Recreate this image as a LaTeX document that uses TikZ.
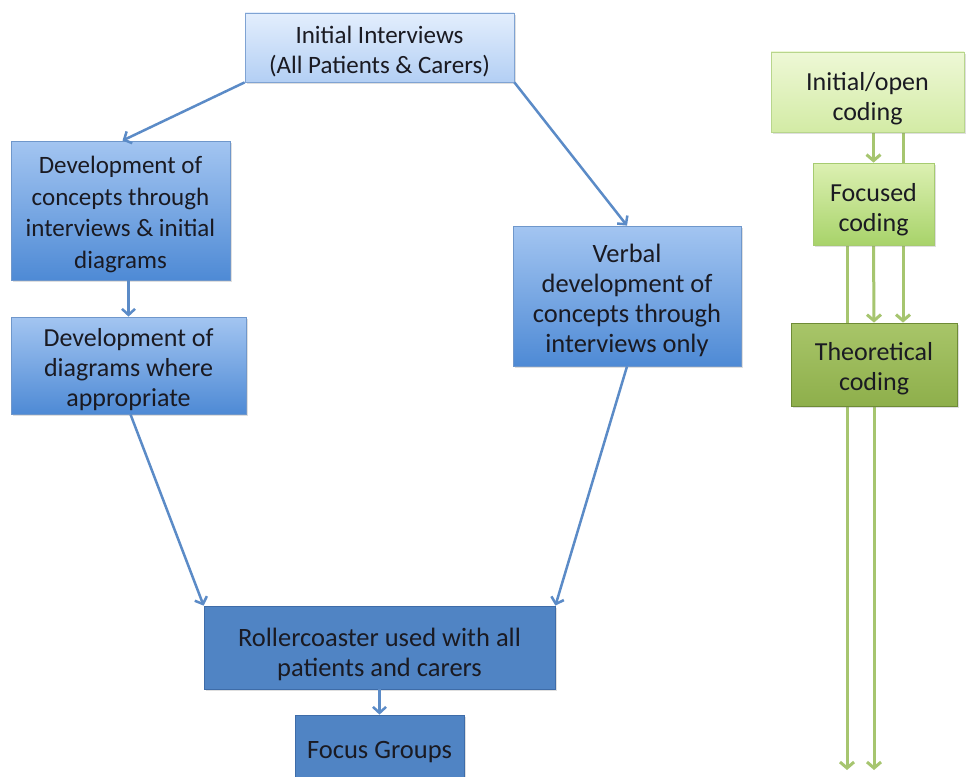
\documentclass[tikz,border=0pt]{standalone}
\usepackage{fontspec}
\setmainfont{Carlito}
\usetikzlibrary{arrows.meta,shadows}
\pgfdeclarelayer{paper}
\pgfdeclarelayer{lines}
\pgfsetlayers{paper,lines,main}
\newcommand\tp[1]{\rule{0pt}{#1pt}}
\definecolor{txt}{HTML}{1A1A22}
\definecolor{blueline}{HTML}{5B8BC7}
\definecolor{greenline}{HTML}{A6C56F}
\definecolor{bdA}{HTML}{7FA3D3}
\definecolor{topA}{HTML}{E3EEFD}
\definecolor{botA}{HTML}{B3CFF4}
\definecolor{bdB}{HTML}{6F97CB}
\definecolor{topB}{HTML}{A3C5F1}
\definecolor{botB}{HTML}{4E8AD5}
\definecolor{bdC}{HTML}{3E6CA8}
\definecolor{fillC}{HTML}{5084C4}
\definecolor{bdD}{HTML}{B8D68C}
\definecolor{topD}{HTML}{EEF8D6}
\definecolor{botD}{HTML}{D3EBA5}
\definecolor{bdE}{HTML}{A6CB70}
\definecolor{topE}{HTML}{DCF0B2}
\definecolor{botE}{HTML}{A8D36A}
\definecolor{bdF}{HTML}{6E8B36}
\definecolor{topF}{HTML}{A8C569}
\definecolor{botF}{HTML}{8EAF4B}
\tikzset{
  box/.style={draw, line width=0.8pt, inner sep=0pt, align=center, text=txt,
    drop shadow={opacity=0.25, shadow xshift=1.5pt, shadow yshift=-2pt}},
  fA/.style={font=\fontsize{25}{30}\selectfont},
  fB/.style={font=\fontsize{25}{31.5}\selectfont},
  fC/.style={font=\fontsize{26}{30}\selectfont},
  fD/.style={font=\fontsize{26.5}{30}\selectfont},
  lightblue/.style={box, draw=bdA, top color=topA, bottom color=botA},
  midblue/.style={box, draw=bdB, top color=topB, bottom color=botB},
  darkblue/.style={box, draw=bdC, fill=fillC},
  palegreen/.style={box, draw=bdD, top color=topD, bottom color=botD},
  lightgreen/.style={box, draw=bdE, top color=topE, bottom color=botE},
  olivegreen/.style={box, draw=bdF, top color=topF, bottom color=botF},
  barrow/.style={draw=blueline, line width=2.5pt, -{Straight Barb[length=6pt,width=13pt]}},
  garrow/.style={draw=greenline, line width=3pt, -{Straight Barb[length=6pt,width=14pt]}},
}
\begin{document}
\begin{tikzpicture}[x=1pt,y=-1pt]
\useasboundingbox (0,0) rectangle (968,776);
\begin{pgfonlayer}{paper}
\fill[white] (0,0) rectangle (968,776);
\end{pgfonlayer}
% left flow
\node[lightblue, fA, minimum width=269pt, minimum height=69pt] (init) at (379.5,47.5) {\tp{26}Initial Interviews\\(All Patients \& Carers)};
\node[midblue, fB, minimum width=219pt, minimum height=139pt] (dev1) at (120.5,210.5) {\tp{25}Development of\\concepts through\\interviews \& initial\\diagrams};
\node[midblue, fC, minimum width=235pt, minimum height=97pt] (dev2) at (128.5,365.5) {\tp{27}Development of\\diagrams where\\appropriate};
\node[midblue, fD, minimum width=228pt, minimum height=140pt] (verbal) at (627,296) {\tp{27}Verbal\\development of\\concepts through\\interviews only};
\node[darkblue, fD, minimum width=351pt, minimum height=83pt] (roller) at (379.5,647.5) {\tp{33}Rollercoaster used with all\\patients and carers};
\node[darkblue, fD, minimum width=169pt, minimum height=66pt] (focus) at (379.5,748) {\tp{25}Focus Groups};
% right flow
\node[palegreen, fC, minimum width=193pt, minimum height=80pt] (open) at (867.5,92) {\tp{32}Initial/open\\coding};
\node[lightgreen, fC, minimum width=121pt, minimum height=82pt] (focused) at (873.5,204) {\tp{30}Focused\\coding};
\node[olivegreen, fC, minimum width=166pt, minimum height=83pt] (theo) at (874,364.5) {\tp{27}Theoretical\\coding};
\coordinate (endA) at (874,770);
\coordinate (endC) at (847,770);
% blue connectors
\draw[barrow] (init.south west) -- ([xshift=2pt]dev1.north);
\draw[barrow] (init.south east) -- (verbal.north);
\draw[barrow] (dev2.north |- dev1.south) -- (dev2.north);
\draw[barrow] ([xshift=2pt]dev2.south) -- (roller.north west);
\draw[barrow] (verbal.south) -- (roller.north east);
\draw[barrow] (roller.south) -- (focus.north);
% green connectors (behind boxes)
\begin{pgfonlayer}{lines}
\draw[garrow] (focused.north |- open.south) -- (focused.north);
\draw[garrow] (focused.south) -- (theo.north);
\draw[garrow] (theo.south) -- (endA);
\draw[garrow] ([xshift=35.5pt]open.south) -- ([xshift=29pt]theo.north);
\draw[garrow] ([xshift=-26.5pt]focused.south) -- (endC);
\end{pgfonlayer}
\end{tikzpicture}
\end{document}
